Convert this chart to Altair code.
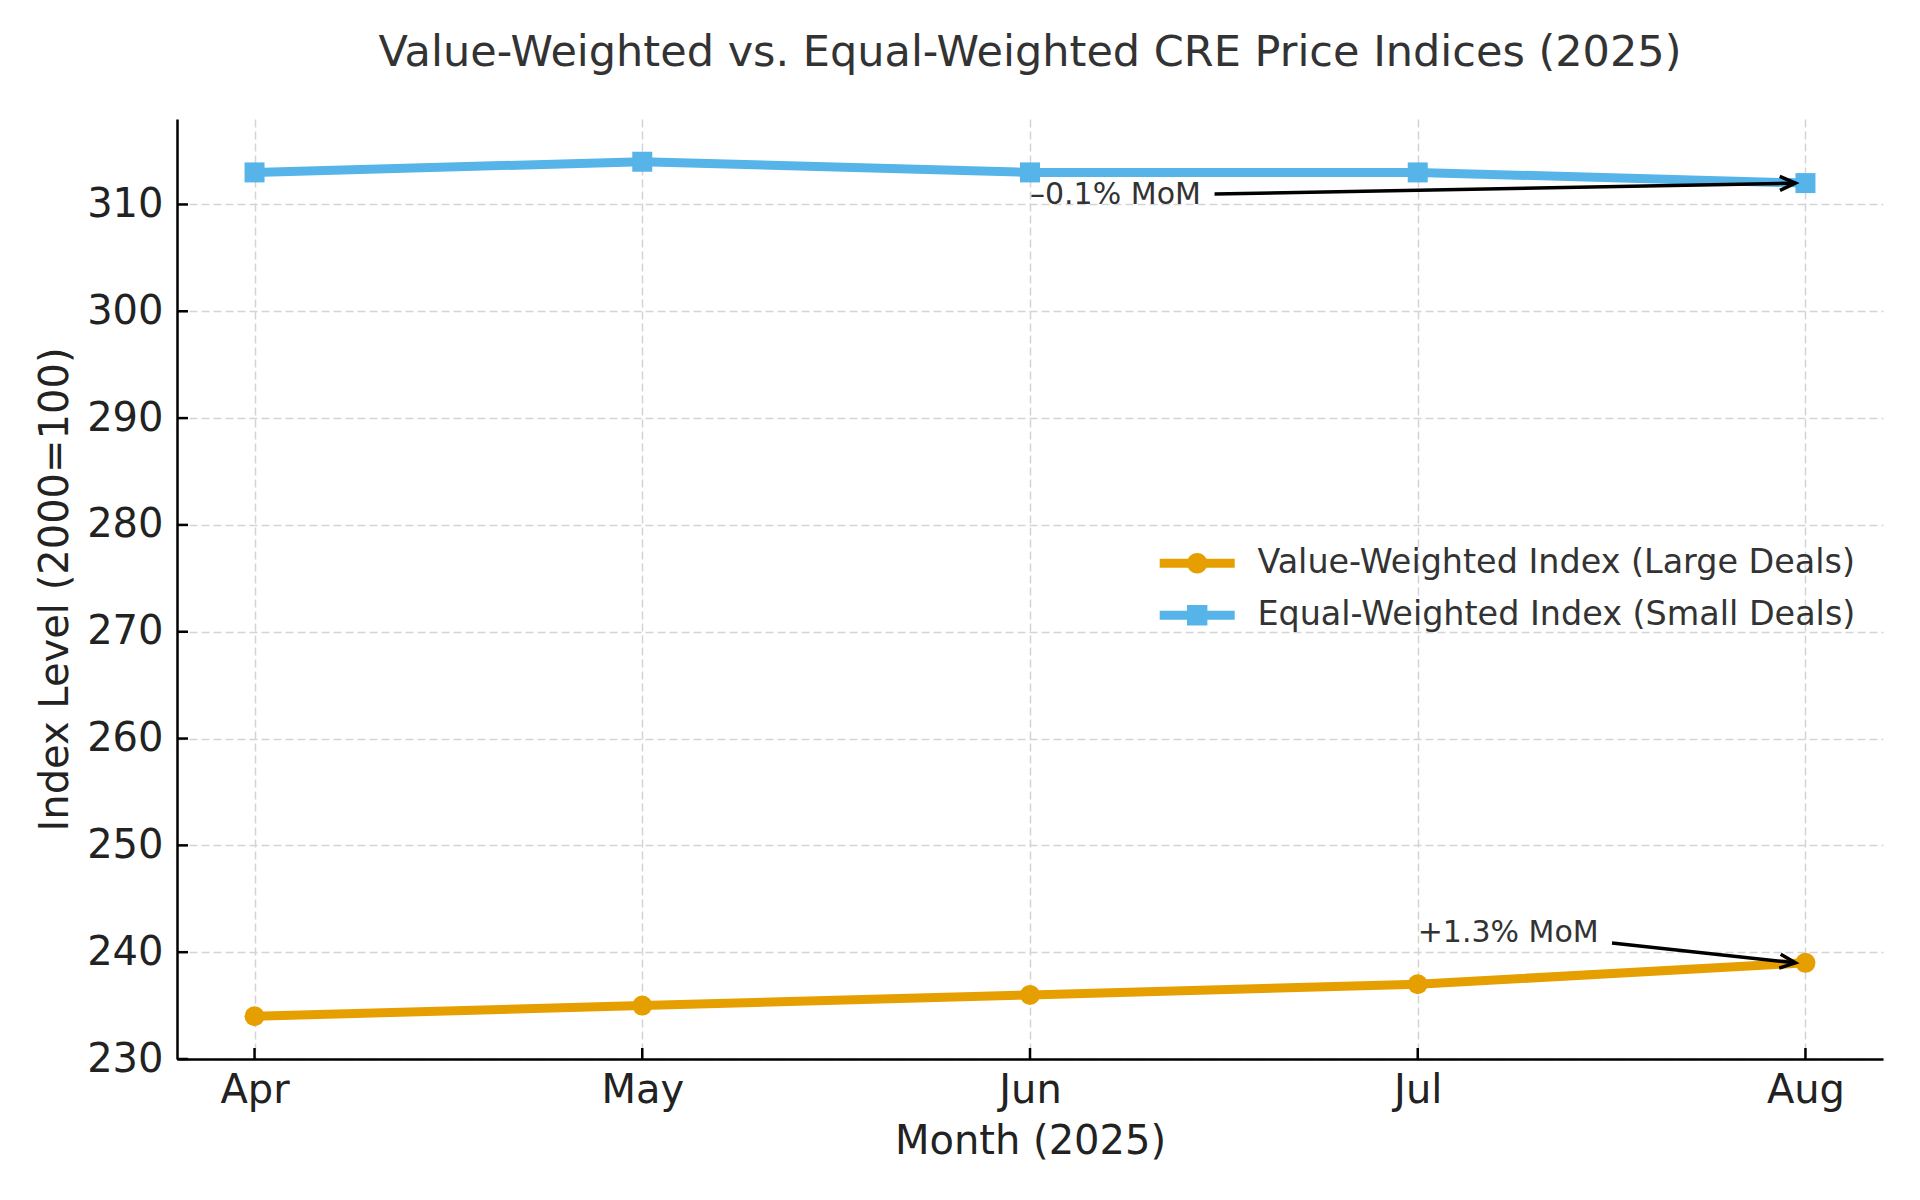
import math

import altair as alt
import pandas as pd

months = ["Apr", "May", "Jun", "Jul", "Aug"]
value_weighted = [234, 235, 236, 237, 239]
equal_weighted = [313, 314, 313, 313, 312]
series_names = [
    "Value-Weighted Index (Large Deals)",
    "Equal-Weighted Index (Small Deals)",
]
series_colors = ["#E69F00", "#56B4E9"]
series_shapes = ["circle", "square"]
y_ticks = [230, 240, 250, 260, 270, 280, 290, 300, 310]

# annotations: text anchor (month index, value) and arrow start -> end
note_labels = ["–0.1% MoM", "+1.3% MoM"]
note_x = [2, 3]
note_y = [310, 241]
arrow_x1 = [2.476, 3.501]
arrow_y1 = [310.98, 240.85]
arrow_x2 = [3.974, 3.974]
arrow_y2 = [312.0, 239.0]

W, H = 1706, 940
X_DOM = [-0.2, 4.2]
Y_DOM = [230, 318]
FONT = "DejaVu Sans"
GRID = dict(grid=True, gridColor="#d4d4d4", gridDash=[8, 4], gridWidth=1.5)

idx = list(range(len(months)))
lines_df = pd.DataFrame({
    "m": idx * 2,
    "value": value_weighted + equal_weighted,
    "series": [series_names[0]] * len(idx) + [series_names[1]] * len(idx),
})

x_scale = alt.Scale(domain=X_DOM, nice=False, zero=False)
y_scale = alt.Scale(domain=Y_DOM, nice=False, zero=False)

x_axis = alt.Axis(
    values=idx, labelExpr=f"{months}[datum.value]", title="Month (2025)",
    ticks=False, domainColor="black", domainWidth=2.5, labelFlush=False,
    labelFont=FONT, labelFontSize=40, labelColor="#222", labelPadding=11,
    titleFont=FONT, titleFontSize=40, titleColor="#222", titleFontWeight="normal",
    titlePadding=11, **GRID,
)
y_axis = alt.Axis(
    values=y_ticks, title="Index Level (2000=100)",
    ticks=False, domainColor="black", domainWidth=2.5,
    labelFont=FONT, labelFontSize=40, labelColor="#222", labelPadding=14,
    titleFont=FONT, titleFontSize=40, titleColor="#222", titleFontWeight="normal",
    titlePadding=11, **GRID,
)


def xq(field, axis=alt.Undefined):
    return alt.X(field, scale=x_scale, axis=axis)


def yq(field, axis=alt.Undefined):
    return alt.Y(field, scale=y_scale, axis=axis)


series_layers = []
for name, colour, shape in zip(series_names, series_colors, series_shapes):
    base = alt.Chart(lines_df).transform_filter(alt.datum.series == name)
    series_layers.append(
        base.mark_line(strokeWidth=9, color=colour).encode(
            x=xq("m:Q", x_axis), y=yq("value:Q", y_axis)
        )
    )
    series_layers.append(
        base.mark_point(shape=shape, filled=True, size=400, opacity=1, color=colour)
        .encode(x=xq("m:Q"), y=yq("value:Q"))
    )

# legend symbols: line segment with the marker on top
circle_sym = (
    "M -3.125 -0.375 L 3.125 -0.375 L 3.125 0.375 L -3.125 0.375 Z "
    "M -0.85 0 A 0.85 0.85 0 1 1 0.85 0 A 0.85 0.85 0 1 1 -0.85 0 Z"
)
square_sym = (
    "M -3.125 -0.375 L 3.125 -0.375 L 3.125 0.375 L -3.125 0.375 Z "
    "M -0.85 -0.85 L 0.85 -0.85 L 0.85 0.85 L -0.85 0.85 Z"
)
leg = alt.Legend(
    orient="none", legendX=1003.5, legendY=427.5, direction="vertical",
    title=None, padding=0, labelFont=FONT, labelFontSize=33.4, labelColor="#333",
    labelOffset=43.5, labelLimit=1000, rowPadding=17, symbolSize=576,
)
legend_layer = (
    alt.Chart(lines_df)
    .transform_filter("false")
    .mark_point(filled=True, size=576, opacity=1)
    .encode(
        x=xq("m:Q"),
        y=yq("value:Q"),
        color=alt.Color(
            "series:N",
            scale=alt.Scale(domain=series_names, range=series_colors),
            legend=leg,
        ),
        shape=alt.Shape(
            "series:N",
            scale=alt.Scale(domain=series_names, range=[circle_sym, square_sym]),
            legend=leg,
        ),
    )
)

# inward tick marks
ytick = alt.Chart(pd.DataFrame({"v": y_ticks})).mark_rule(
    color="black", strokeWidth=2.5
).encode(y=yq("v:Q"), x=alt.value(0), x2=alt.value(11))
xtick = alt.Chart(pd.DataFrame({"m": idx})).mark_rule(
    color="black", strokeWidth=2.5
).encode(x=xq("m:Q"), y=alt.value(H), y2=alt.value(H - 11))

# annotations
px_x = W / (X_DOM[1] - X_DOM[0])
px_y = H / (Y_DOM[1] - Y_DOM[0])
angles = [
    math.degrees(math.atan2(-(b2 - b1) * px_y, (a2 - a1) * px_x)) % 360
    for a1, b1, a2, b2 in zip(arrow_x1, arrow_y1, arrow_x2, arrow_y2)
]
notes_df = pd.DataFrame({
    "label": note_labels, "tx": note_x, "ty": note_y,
    "x1": arrow_x1, "y1": arrow_y1, "x2": arrow_x2, "y2": arrow_y2,
    "angle": angles,
})
note_text = alt.Chart(notes_df).mark_text(
    align="left", baseline="alphabetic", font=FONT, fontSize=30, color="#333"
).encode(x=xq("tx:Q"), y=yq("ty:Q"), text="label:N")
arrow_shaft = alt.Chart(notes_df).mark_rule(color="black", strokeWidth=3.5).encode(
    x=xq("x1:Q"), y=yq("y1:Q"), x2="x2:Q", y2="y2:Q"
)
arrow_head = alt.Chart(notes_df).mark_point(
    shape="M -1 -0.45 L 0 0 L -1 0.45", filled=False, color="black",
    strokeWidth=3.5, size=960, opacity=1, strokeJoin="miter",
).encode(x=xq("x2:Q"), y=yq("y2:Q"), angle=alt.Angle("angle:Q", scale=None))

chart = (
    alt.layer(*series_layers, legend_layer, ytick, xtick, arrow_shaft, arrow_head, note_text)
    .properties(
        width=W,
        height=H,
        autosize="none",
        padding={"left": 169, "top": 111, "right": 20, "bottom": 140},
        title=alt.TitleParams(
            "Value-Weighted vs. Equal-Weighted CRE Price Indices (2025)",
            font=FONT, fontSize=43, fontWeight="normal", color="#333",
            anchor="middle", frame="group", baseline="alphabetic", offset=10,
        ),
    )
    .configure(background="white")
    .configure_view(stroke=None)
)

chart.save("out.html", embed_options={"renderer": "svg", "actions": False})
